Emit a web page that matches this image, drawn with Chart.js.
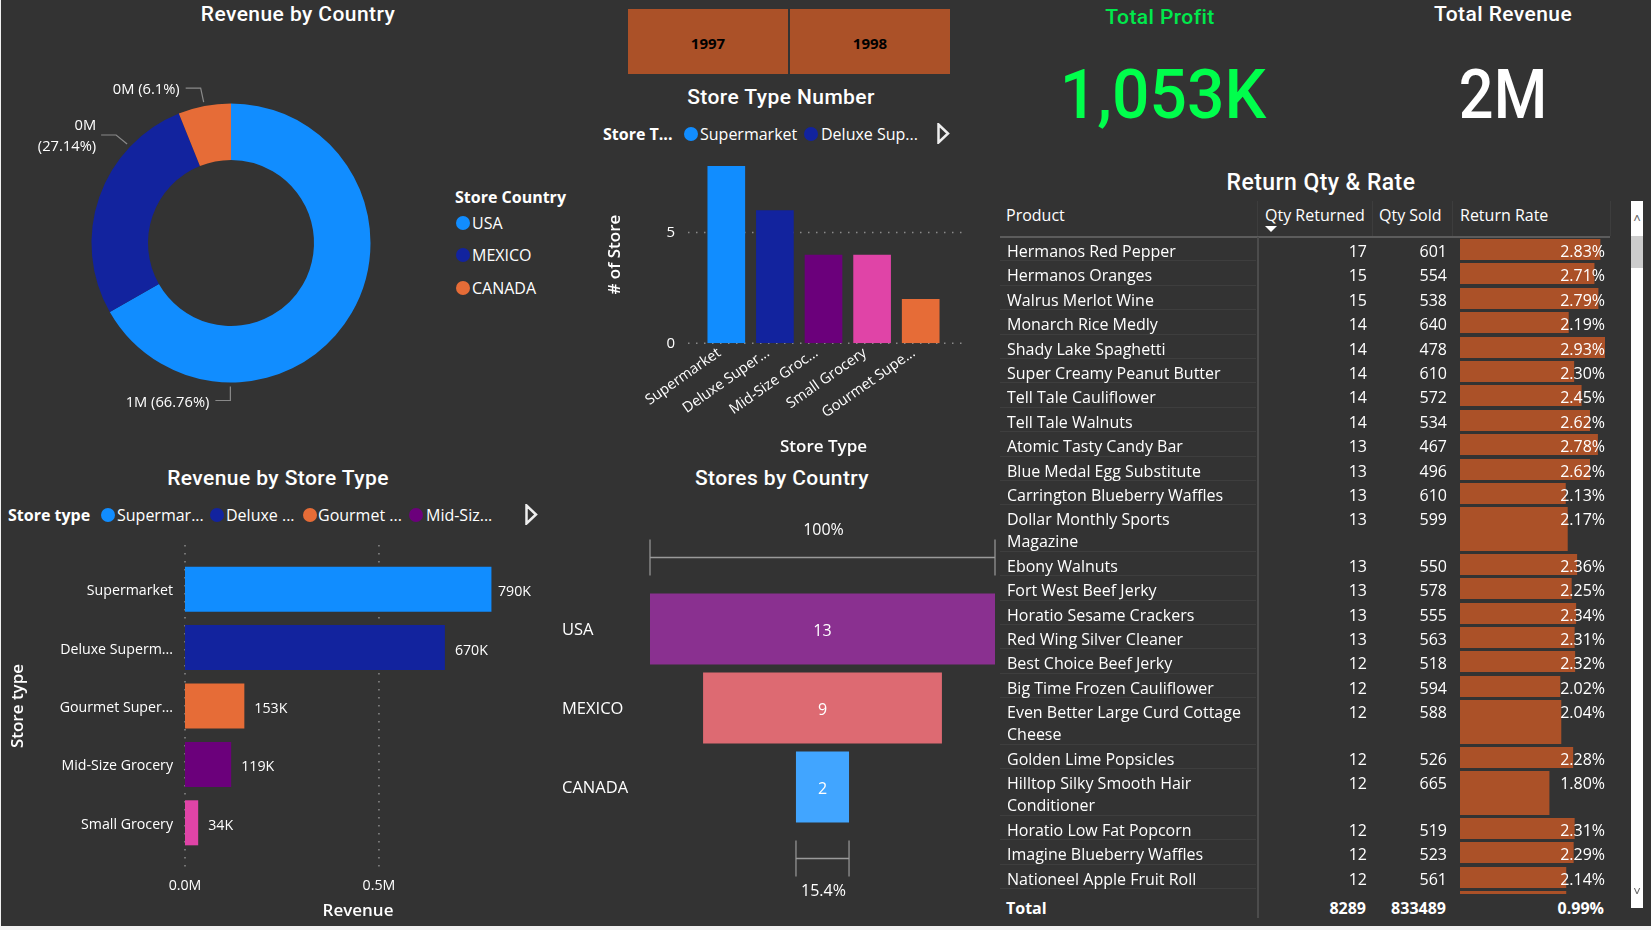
<!DOCTYPE html>
<html>
<head>
<meta charset="utf-8">
<title>Store dashboard</title>
<script src="https://cdn.jsdelivr.net/npm/chart.js@4"></script>
<style>
html, body { margin: 0; padding: 0; background: #f2f2f2; }
#page { position: absolute; left: 1px; top: 0; width: 1650px; height: 926px; background: #333; overflow: hidden; }
#page > * { position: absolute; }
.abs { position: absolute; color: #fff; white-space: nowrap; font: 16px "Open Sans", sans-serif; }
.c { transform: translate(-50%, -50%); }
.m { transform: translateY(-50%); }
.title { font: 500 21px Roboto, sans-serif; letter-spacing: .42px; }
.b { font-weight: 700; }
.dot { position: absolute; width: 14px; height: 14px; border-radius: 50%; transform: translate(-50%, -50%); }
.year { position: absolute; background: #ab5128; color: #000; font: 700 15px "Open Sans", sans-serif; text-align: center; line-height: 68px; top: 9px; height: 65px; width: 160px; }
.kpi { font: 500 68px Roboto, sans-serif; }
canvas { position: absolute; }
#rows { left: 999px; top: 237px; width: 612px; height: 657px; overflow: hidden; }
.row { position: relative; }
.row .cell { position: absolute; top: 3px; color: #fff; font: 16px/22px "Open Sans", sans-serif; white-space: pre-line; }
.row .sep { position: absolute; left: 0; bottom: 0; width: 256px; height: 1px; background: #3e3e3e; }
.row canvas { left: 460px; top: 2px; }
</style>
</head>
<body>
<div id="page"></div>
<script>
var colorBlue = "#118DFF", colorNavy = "#12239E", colorOrange = "#E66C37", colorPurple = "#6B007B", colorPink = "#E044A7";

// Revenue by Country
var countries = ["USA", "MEXICO", "CANADA"];
var countryShare = [66.76, 27.14, 6.1];
var countryLabels = [["1M (66.76%)"], ["0M", "(27.14%)"], ["0M (6.1%)"]];
var countryColors = [colorBlue, colorNavy, colorOrange];

// Revenue by Store Type
var revenueTypes = ["Supermarket", "Deluxe Superm...", "Gourmet Super...", "Mid-Size Grocery", "Small Grocery"];
var revenueValues = [790000, 670000, 153000, 119000, 34000];
var revenueText = ["790K", "670K", "153K", "119K", "34K"];
var revenueColors = [colorBlue, colorNavy, colorOrange, colorPurple, colorPink];
var revenueTicks = [0, 500000];

// Store Type Number
var storeTypes = ["Supermarket", "Deluxe Super...", "Mid-Size Groc...", "Small Grocery", "Gourmet Supe..."];
var storeCounts = [8, 6, 4, 4, 2];
var storeColors = [colorBlue, colorNavy, colorPurple, colorPink, colorOrange];
var storeTicks = [0, 5];

// Stores by Country
var funnelCountries = ["USA", "MEXICO", "CANADA"];
var funnelValues = [13, 9, 2];
var funnelColors = ["#8A3090", "#DD6A72", "#41A5FF"];

// Return Qty & Rate
var products = ["Hermanos Red Pepper", "Hermanos Oranges", "Walrus Merlot Wine", "Monarch Rice Medly", "Shady Lake Spaghetti",
  "Super Creamy Peanut Butter", "Tell Tale Cauliflower", "Tell Tale Walnuts", "Atomic Tasty Candy Bar", "Blue Medal Egg Substitute",
  "Carrington Blueberry Waffles", "Dollar Monthly Sports\nMagazine", "Ebony Walnuts", "Fort West Beef Jerky", "Horatio Sesame Crackers",
  "Red Wing Silver Cleaner", "Best Choice Beef Jerky", "Big Time Frozen Cauliflower", "Even Better Large Curd Cottage\nCheese",
  "Golden Lime Popsicles", "Hilltop Silky Smooth Hair\nConditioner", "Horatio Low Fat Popcorn", "Imagine Blueberry Waffles", "Nationeel Apple Fruit Roll", ""];
var qtyReturned = [17, 15, 15, 14, 14, 14, 14, 14, 13, 13, 13, 13, 13, 13, 13, 13, 12, 12, 12, 12, 12, 12, 12, 12, ""];
var qtySold = [601, 554, 538, 640, 478, 610, 572, 534, 467, 496, 610, 599, 550, 578, 555, 563, 518, 594, 588, 526, 665, 519, 523, 561, ""];
var returnRate = [2.83, 2.71, 2.79, 2.19, 2.93, 2.30, 2.45, 2.62, 2.78, 2.62, 2.13, 2.17, 2.36, 2.25, 2.34, 2.31, 2.32, 2.02, 2.04, 2.28, 1.80, 2.31, 2.29, 2.14, 2.14];

Chart.defaults.font.family = "'Open Sans', sans-serif";
Chart.defaults.font.size = 15;
Chart.defaults.color = "#fff";
Chart.defaults.animation = false;
Chart.defaults.responsive = false;
Chart.defaults.plugins.legend.display = false;
Chart.defaults.plugins.tooltip.enabled = false;

var page = document.getElementById("page");
var noGrid = { display: false, drawTicks: false };

function text(s, x, y, cls) {
  var d = document.createElement("div");
  d.className = "abs " + (cls || "");
  d.textContent = s;
  d.style.left = (x - 1) + "px";
  d.style.top = y + "px";
  page.appendChild(d);
  return d;
}
function dot(x, y, color) {
  var d = document.createElement("div");
  d.className = "dot";
  d.style.left = (x - 1) + "px";
  d.style.top = y + "px";
  d.style.background = color;
  page.appendChild(d);
}
function arrow(x, y) {
  var s = document.createElementNS("http://www.w3.org/2000/svg", "svg");
  s.setAttribute("width", 14);
  s.setAttribute("height", 21);
  s.style.left = (x - 1) + "px";
  s.style.top = y + "px";
  s.innerHTML = '<polygon points="1.5,1.5 11,10.5 1.5,19.5" fill="none" stroke="#eee" stroke-width="2.5"/>';
  page.appendChild(s);
}
function canvas(x, y, w, h, parent) {
  var c = document.createElement("canvas");
  c.width = w;
  c.height = h;
  if (!parent) {
    c.style.left = (x - 1) + "px";
    c.style.top = y + "px";
  }
  (parent || page).appendChild(c);
  return c;
}
function dotted(ctx, x1, y1, x2, y2) {
  ctx.save();
  ctx.strokeStyle = "#8a8a8a";
  ctx.lineWidth = 1.5;
  ctx.setLineDash([1.5, 6.5]);
  ctx.beginPath();
  ctx.moveTo(x1, y1);
  ctx.lineTo(x2, y2);
  ctx.stroke();
  ctx.restore();
}
function poly(ctx, pts, color, width) {
  ctx.strokeStyle = color;
  ctx.lineWidth = width;
  ctx.beginPath();
  pts.forEach(function (p, i) { if (i) ctx.lineTo(p[0], p[1]); else ctx.moveTo(p[0], p[1]); });
  ctx.stroke();
}

// ---- titles and legends ----
text("Revenue by Country", 298, 14, "title c");
text("Revenue by Store Type", 278, 478, "title c");
text("Store Type Number", 781, 97, "title c");
text("Stores by Country", 782, 478, "title c");
text("Return Qty & Rate", 1321, 182, "title c").style.fontSize = "23px";

text("Store Country", 455, 197, "b m");
countries.forEach(function (name, i) {
  var y = [223, 255, 288][i];
  dot(463, y, countryColors[i]);
  text(name, 472, y, "m");
});

text("Store T...", 603, 134, "b m");
dot(691, 134, colorBlue);
text("Supermarket", 700, 134, "m");
dot(811, 134, colorNavy);
text("Deluxe Sup...", 821, 134, "m");
arrow(937, 123);

text("Store type", 8, 515, "b m");
dot(108, 515, colorBlue);
text("Supermar...", 117, 515, "m");
dot(217, 515, colorNavy);
text("Deluxe ...", 226, 515, "m");
dot(310, 515, colorOrange);
text("Gourmet ...", 318, 515, "m");
dot(416, 515, colorPurple);
text("Mid-Siz...", 426, 515, "m");
arrow(525, 504);

// ---- year slicer ----
["1997", "1998"].forEach(function (y, i) {
  var d = document.createElement("div");
  d.className = "year";
  d.textContent = y;
  d.style.left = (i ? 790 : 628) - 1 + "px";
  page.appendChild(d);
});

// ---- KPIs ----
text("Total Profit", 1160, 17, "title c").style.color = "#00E94C";
var profit = text("1,053K", 1163, 95, "kpi c");
profit.style.color = "#00FF4C";
profit.style.transform = "translate(-50%,-50%) scaleX(.97)";
text("Total Revenue", 1503, 14, "title c");
text("2M", 1503, 95, "kpi c").style.transform = "translate(-50%,-50%) scaleX(.9)";

// ---- donut ----
new Chart(canvas(1, 30, 460, 426), {
  type: "doughnut",
  data: { labels: countries, datasets: [{ data: countryShare, backgroundColor: countryColors, borderWidth: 0, radius: 139.5 }] },
  options: { cutout: "59.5%" },
  plugins: [{
    id: "leaders",
    afterDatasetsDraw: function (chart) {
      var ctx = chart.ctx;
      var spots = [0.75, 0.75, 0.5];
      chart.getDatasetMeta(0).data.forEach(function (arc, i) {
        var p = arc.getProps(["x", "y", "startAngle", "endAngle", "outerRadius"], true);
        var a = p.startAngle + (p.endAngle - p.startAngle) * spots[i];
        var r = p.outerRadius + 4;
        var sx = p.x + Math.cos(a) * r, sy = p.y + Math.sin(a) * r;
        var lift = i === 0 ? 14 : (i === 1 ? -9 : -14);
        var run = i === 1 ? 11 : (i === 2 ? 3 : 0);
        var ky = sy + lift, kx = sx - run;
        poly(ctx, [[sx, sy], [kx, ky], [kx - 15, ky]], "#8a8a8a", 1.2);
        ctx.fillStyle = "#fff";
        ctx.font = "14.7px 'Open Sans', sans-serif";
        ctx.textAlign = "right";
        ctx.textBaseline = "middle";
        var lines = countryLabels[i];
        lines.forEach(function (t, j) {
          ctx.fillText(t, kx - 21 + (lines.length > 1 ? 1 : 0), ky + (lines.length > 1 ? (j - 0.5) * 21 + 1 : 2));
        });
      });
    }
  }]
});

// ---- revenue by store type ----
new Chart(canvas(2, 530, 558, 395), {
  type: "bar",
  data: { labels: revenueTypes, datasets: [{ data: revenueValues, backgroundColor: revenueColors, barPercentage: 0.771, categoryPercentage: 1 }] },
  options: {
    indexAxis: "y",
    layout: { padding: { top: 30, right: 29 } },
    scales: {
      x: {
        min: 0, max: 892000, bounds: "data",
        grid: noGrid, border: { display: false },
        afterBuildTicks: function (s) { s.ticks = revenueTicks.map(function (v) { return { value: v }; }); },
        ticks: { font: { size: 14.2 }, padding: 25, maxRotation: 0, callback: function (v) { return (v / 1000000).toFixed(1) + "M"; } },
        title: { display: true, text: "Revenue", font: { size: 17, weight: "600" }, padding: { top: 0, bottom: 4 } },
        afterFit: function (s) { s.height = 73; }
      },
      y: {
        grid: noGrid, border: { display: false },
        ticks: { font: { size: 14.2 }, padding: 12, labelOffset: 2 },
        title: { display: true, text: "Store type", font: { size: 17, weight: "600" }, padding: { top: 6, bottom: 0 } },
        afterFit: function (s) { s.width = 183; }
      }
    }
  },
  plugins: [{
    id: "gridAndLabels",
    beforeDatasetsDraw: function (chart) {
      var x = chart.scales.x, area = chart.chartArea;
      revenueTicks.forEach(function (v) {
        dotted(chart.ctx, x.getPixelForValue(v), area.top - 15, x.getPixelForValue(v), area.bottom + 18);
      });
    },
    afterDatasetsDraw: function (chart) {
      var ctx = chart.ctx;
      ctx.fillStyle = "#fff";
      ctx.font = "14.2px 'Open Sans', sans-serif";
      ctx.textBaseline = "middle";
      ctx.textAlign = "left";
      chart.getDatasetMeta(0).data.forEach(function (bar, i) {
        var w = ctx.measureText(revenueText[i]).width;
        ctx.fillText(revenueText[i], Math.min(bar.x + 10, chart.chartArea.right - w), bar.y + 3);
      });
    }
  }]
});

// ---- store type number ----
// chart.js keeps about 20px above the plot when the x labels are rotated, so the canvas starts higher
new Chart(canvas(600, 130, 370, 330), {
  type: "bar",
  data: { labels: storeTypes, datasets: [{ data: storeCounts, backgroundColor: storeColors, barPercentage: 0.775, categoryPercentage: 1 }] },
  options: {
    layout: { padding: { top: 12.5, right: 25 } },
    scales: {
      x: {
        grid: noGrid, border: { display: false },
        ticks: { font: { size: 14.5 }, minRotation: 35, maxRotation: 35, padding: 1, labelOffset: -7, autoSkip: false },
        title: { display: true, text: "Store Type", font: { size: 17, weight: "600" }, padding: { top: 0, bottom: 3 } },
        afterFit: function (s) { s.height = 116.7; }
      },
      y: {
        min: 0, max: 8, bounds: "data",
        grid: noGrid, border: { display: false },
        afterBuildTicks: function (s) { s.ticks = storeTicks.map(function (v) { return { value: v }; }); },
        ticks: { padding: 27 },
        title: { display: true, text: "# of Store", font: { size: 17, weight: "600" }, padding: { top: 5, bottom: 0 } },
        afterFit: function (s) { s.width = 102; }
      }
    }
  },
  plugins: [{
    id: "grid",
    beforeDatasetsDraw: function (chart) {
      var y = chart.scales.y, area = chart.chartArea;
      storeTicks.forEach(function (v) {
        dotted(chart.ctx, area.left - 14, y.getPixelForValue(v), area.right + 21, y.getPixelForValue(v));
      });
    }
  }]
});

// ---- stores by country (funnel) ----
new Chart(canvas(550, 515, 455, 395), {
  type: "bar",
  data: {
    labels: funnelCountries,
    datasets: [{
      data: funnelValues.map(function (v) { return [-v / 2, v / 2]; }),
      backgroundColor: funnelColors, barPercentage: 0.9, categoryPercentage: 1
    }]
  },
  options: {
    indexAxis: "y",
    layout: { padding: { left: 12, top: 74.5, bottom: 83.5, right: 10 } },
    scales: {
      x: { display: false, min: -6.5, max: 6.5 },
      y: {
        grid: noGrid, border: { display: false },
        ticks: { font: { size: 16.5 }, crossAlign: "far", padding: 0, labelOffset: 1 },
        afterFit: function (s) { s.width = 88; }
      }
    }
  },
  plugins: [{
    id: "funnelMarks",
    afterDatasetsDraw: function (chart) {
      var ctx = chart.ctx, x = chart.scales.x;
      ctx.fillStyle = "#fff";
      ctx.font = "16px 'Open Sans', sans-serif";
      ctx.textAlign = "center";
      ctx.textBaseline = "middle";
      chart.getDatasetMeta(0).data.forEach(function (bar, i) {
        ctx.fillText(funnelValues[i], x.getPixelForValue(0), bar.y + 2);
      });
      function bracket(v, y, label, labelY) {
        var l = x.getPixelForValue(-v / 2), r = x.getPixelForValue(v / 2);
        poly(ctx, [[l, y - 18], [l, y + 18]], "#808080", 1.6);
        poly(ctx, [[r, y - 18], [r, y + 18]], "#808080", 1.6);
        poly(ctx, [[l, y], [r, y]], "#9a9a9a", 1.6);
        ctx.fillStyle = "#fff";
        ctx.fillText(label, x.getPixelForValue(0) + 1, labelY);
      }
      var first = funnelValues[0], last = funnelValues[funnelValues.length - 1];
      bracket(first, 42.5, "100%", 15);
      bracket(last, 343.5, (last / first * 100).toFixed(1) + "%", 376);
    }
  }]
});

// ---- return table ----
text("Product", 1006, 215, "m");
text("Qty Returned", 1265, 215, "m");
text("Qty Sold", 1379, 215, "m");
text("Return Rate", 1460, 215, "m");

function rule(x, y, w, h, color) {
  var d = document.createElement("div");
  d.style.cssText = "left:" + (x - 1) + "px;top:" + y + "px;width:" + w + "px;height:" + h + "px;background:" + color;
  page.appendChild(d);
  return d;
}
rule(1000, 236, 610, 1.5, "#5c5c5c");
rule(1257, 201, 1, 35, "#3d3d3d");
rule(1372, 201, 1, 35, "#3d3d3d");
rule(1452, 201, 1, 35, "#3d3d3d");
rule(1610, 201, 1, 35, "#3d3d3d");
rule(1257, 237, 1.5, 681, "#4c4c4c");
var sortMark = rule(1265, 226, 0, 0, "transparent");
sortMark.style.borderLeft = "6px solid transparent";
sortMark.style.borderRight = "6px solid transparent";
sortMark.style.borderTop = "6px solid #fff";

var rows = document.createElement("div");
rows.id = "rows";
page.appendChild(rows);

function cell(row, s, css) {
  var d = document.createElement("div");
  d.className = "cell";
  d.textContent = s;
  d.style.cssText = css;
  row.appendChild(d);
}

returnRate.forEach(function (rate, i) {
  var twoLines = products[i].indexOf("\n") >= 0;
  var h = twoLines ? 46.6 : 24.4;
  var row = document.createElement("div");
  row.className = "row";
  row.style.height = h + "px";
  rows.appendChild(row);
  var c = canvas(0, 0, 145, Math.round(h - 3), row);
  new Chart(c, {
    type: "bar",
    data: { labels: [products[i]], datasets: [{ data: [rate], backgroundColor: "#ab5128", barPercentage: 1, categoryPercentage: 1 }] },
    options: {
      indexAxis: "y",
      scales: { x: { display: false, min: 0, max: 2.93 }, y: { display: false } }
    }
  });
  var s = document.createElement("div");
  s.className = "sep";
  row.appendChild(s);
  cell(row, products[i], "left:7px");
  cell(row, qtyReturned[i], "right:245px");
  cell(row, qtySold[i], "right:165px");
  if (products[i]) cell(row, rate.toFixed(2) + "%", "right:7px");
});

text("Total", 1006, 908, "b m");
var t1 = text("8289", 0, 908, "b m"); t1.style.left = "auto"; t1.style.right = (1651 - 1366) + "px";
var t2 = text("833489", 0, 908, "b m"); t2.style.left = "auto"; t2.style.right = (1651 - 1446) + "px";
var t3 = text("0.99%", 0, 908, "b m"); t3.style.left = "auto"; t3.style.right = (1651 - 1604) + "px";

// ---- scroll bar ----
rule(1631, 201, 12, 707, "#fff");
rule(1631, 236, 12, 32, "#cdcdcd");
var up = text("\u02c4", 1637, 218, "c"); up.style.color = "#666"; up.style.fontSize = "13px";
var down = text("\u02c5", 1637, 891, "c"); down.style.color = "#666"; down.style.fontSize = "13px";
</script>
</body>
</html>
